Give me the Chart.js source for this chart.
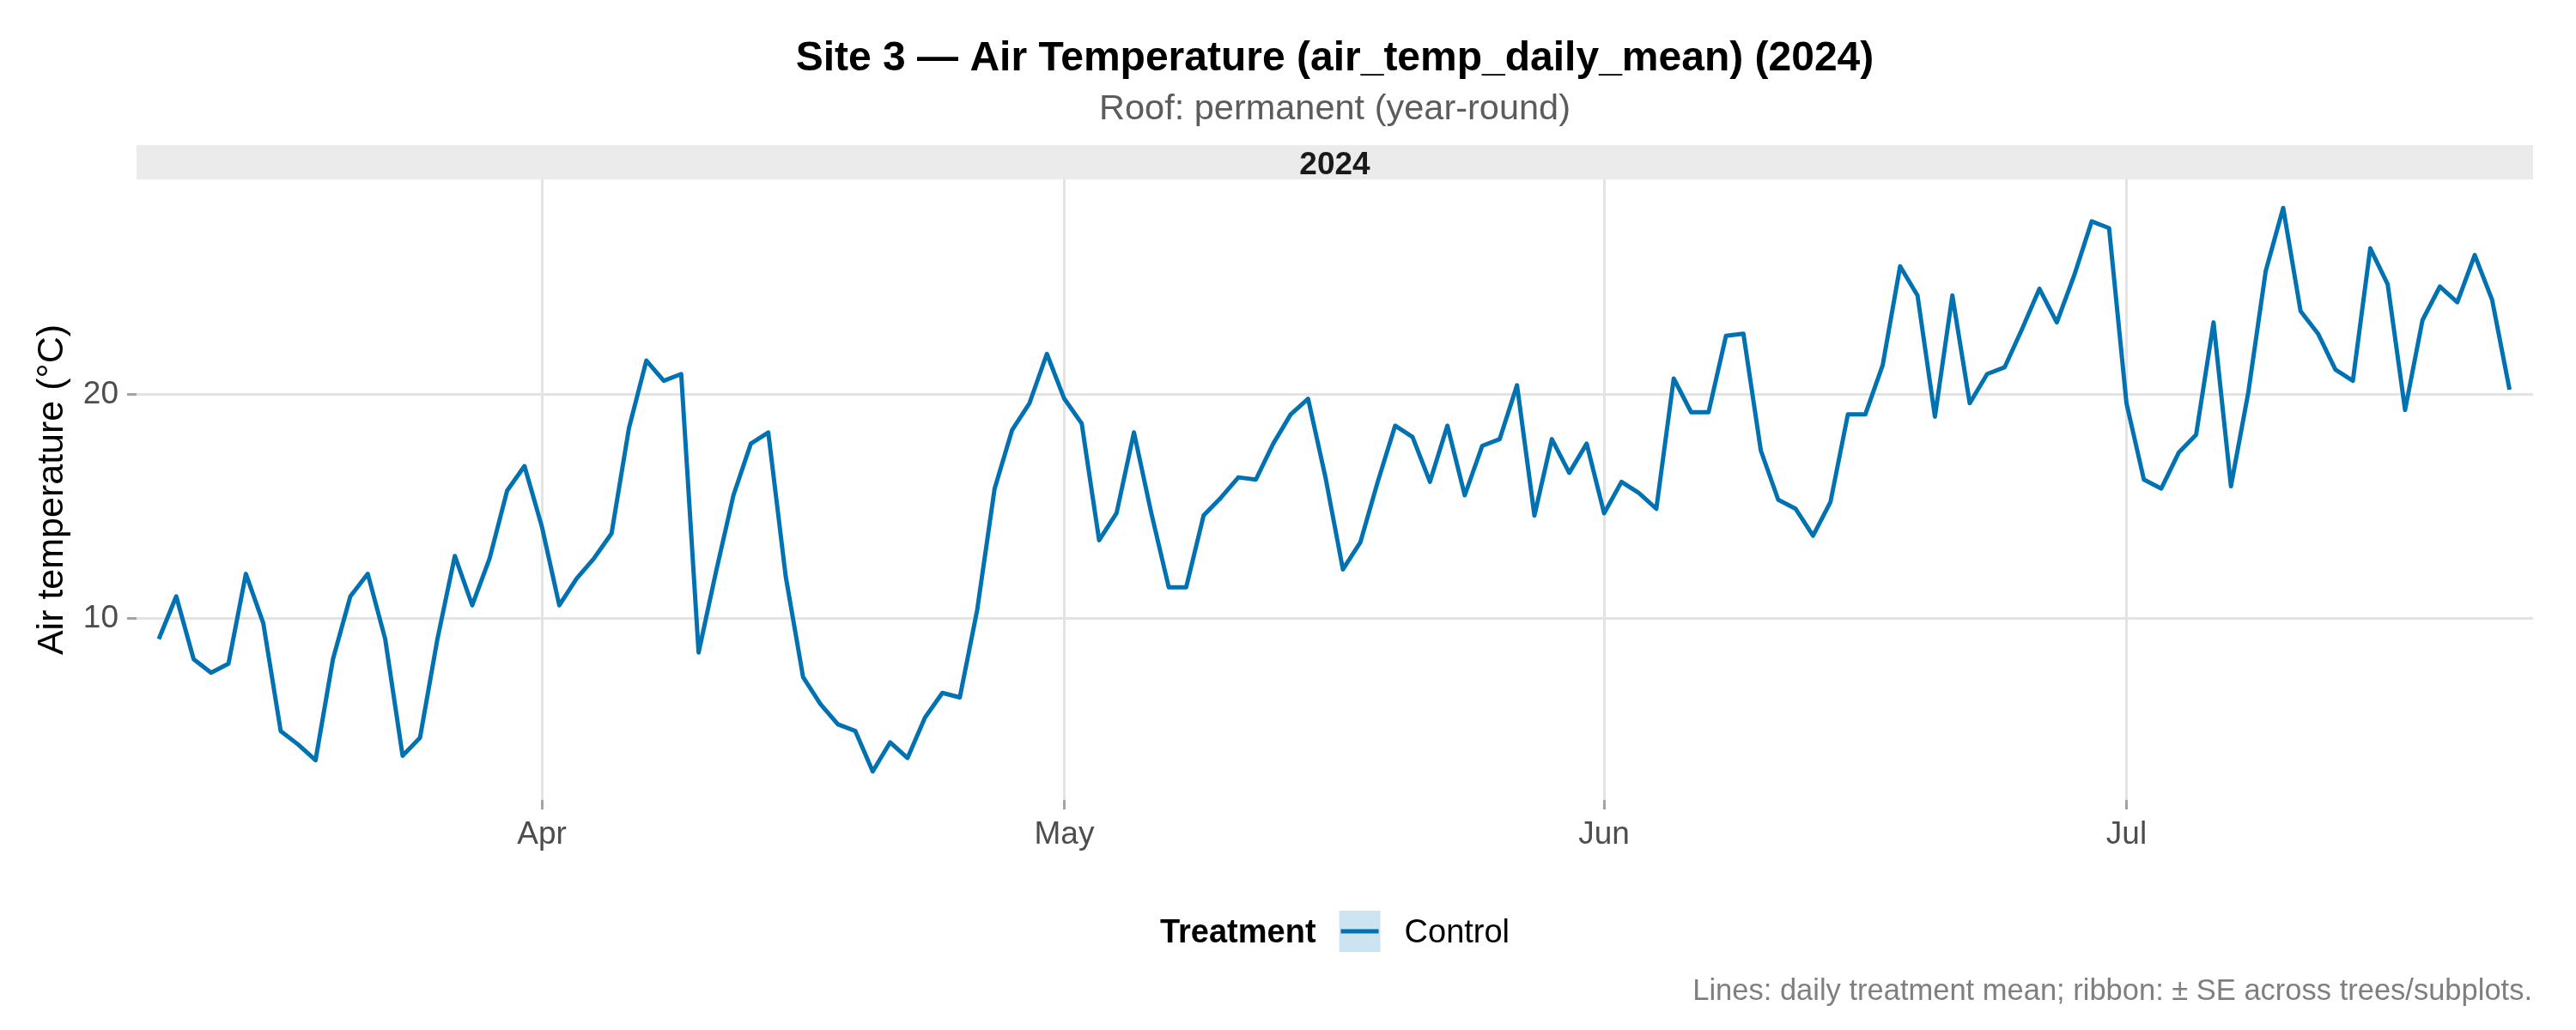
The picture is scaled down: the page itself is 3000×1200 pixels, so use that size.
<!DOCTYPE html>
<html lang="en">
<head>
<meta charset="UTF-8">
<title>Site 3 — Air Temperature (air_temp_daily_mean) (2024)</title>
<script src="https://cdn.jsdelivr.net/npm/chart.js"></script>
<style>
  html, body { margin: 0; padding: 0; background: #ffffff; }
</style>
</head>
<body>
<canvas id="myChart" width="3000" height="1200"></canvas>
<script>
// Daily treatment mean of air_temp_daily_mean (°C), treatment "Control"
// one array per month, each starting at the date in monthStarts
const monthStarts = ['2024-03-10', '2024-04-01', '2024-05-01', '2024-06-01', '2024-07-01'];
const marTemps = [9.1, 11.0, 8.2, 7.6, 8.0, 12.0, 9.8, 5.0, 4.4, 3.7, 8.2, 11.0, 12.0, 9.1, 3.9, 4.7, 9.1, 12.8, 10.6, 12.7, 15.7, 16.8];
const aprTemps = [14.1, 10.6, 11.8, 12.7, 13.8, 18.5, 21.5, 20.6, 20.9, 8.5, 12.1, 15.5, 17.8, 18.3, 11.9, 7.4, 6.2, 5.3, 5.0, 3.2, 4.5, 3.8, 5.6, 6.7, 6.5, 10.4, 15.8, 18.4, 19.6, 21.8];
const mayTemps = [19.8, 18.7, 13.5, 14.7, 18.3, 14.7, 11.4, 11.4, 14.6, 15.4, 16.3, 16.2, 17.8, 19.1, 19.8, 16.3, 12.2, 13.4, 16.1, 18.6, 18.1, 16.1, 18.6, 15.5, 17.7, 18.0, 20.4, 14.6, 18.0, 16.5, 17.8];
const junTemps = [14.7, 16.1, 15.6, 14.9, 20.7, 19.2, 19.2, 22.6, 22.7, 17.5, 15.3, 14.9, 13.7, 15.2, 19.1, 19.1, 21.3, 25.7, 24.4, 19.0, 24.4, 19.6, 20.9, 21.2, 22.9, 24.7, 23.2, 25.3, 27.7, 27.4];
const julTemps = [19.6, 16.2, 15.8, 17.4, 18.2, 23.2, 15.9, 20.1, 25.5, 28.3, 23.7, 22.7, 21.1, 20.6, 26.5, 24.9, 19.3, 23.3, 24.8, 24.1, 26.2, 24.2, 20.2];

// x axis ticks
const tickDates = ['2024-04-01', '2024-05-01', '2024-06-01', '2024-07-01'];
const tickLabels = ['Apr', 'May', 'Jun', 'Jul'];
// y axis ticks
const yTicks = [10, 20];

const FONT = '"Liberation Sans", Arial, Helvetica, sans-serif';
const LINE_COLOR = '#0072B2';

function dayOf(s) {
    const [y, m, d] = s.split('-').map(Number);
    return (Date.UTC(y, m - 1, d) - Date.UTC(2024, 0, 1)) / 864e5;
}

// build {x, y} points
const points = [];
[marTemps, aprTemps, mayTemps, junTemps, julTemps].forEach((arr, i) => {
    const start = dayOf(monthStarts[i]);
    arr.forEach((v, j) => points.push({ x: start + j, y: v }));
});
const firstDay = points[0].x;
const lastDay = points[points.length - 1].x;
const tickDays = tickDates.map(dayOf);

// titles, facet strip, legend and caption drawn around the panel
const decorations = {
    id: 'decorations',
    afterDraw(chart) {
        const ctx = chart.ctx;
        const area = chart.chartArea;
        const cx = (area.left + area.right) / 2;
        ctx.save();

        // facet strip
        ctx.fillStyle = '#ebebeb';
        ctx.fillRect(area.left, area.top - 40, area.right - area.left, 40);
        ctx.fillStyle = '#1a1a1a';
        ctx.textAlign = 'center';
        ctx.textBaseline = 'alphabetic';
        ctx.font = 'bold 37px ' + FONT;
        ctx.fillText('2024', cx, area.top - 6);

        // title + subtitle
        ctx.fillStyle = '#000000';
        ctx.font = 'bold 48px ' + FONT;
        ctx.fillText('Site 3 \u2014 Air Temperature (air_temp_daily_mean) (2024)', cx, 82);
        ctx.fillStyle = '#5c5c5c';
        ctx.font = '41.5px ' + FONT;
        ctx.fillText('Roof: permanent (year-round)', cx, 139);

        // legend
        ctx.font = 'bold 38px ' + FONT;
        const tW = ctx.measureText('Treatment').width;
        ctx.font = '38px ' + FONT;
        const lW = ctx.measureText('Control').width;
        const keyW = 48, gap1 = 27, gap2 = 28;
        const total = tW + gap1 + keyW + gap2 + lW;
        let x = cx - total / 2;
        const legY = 1085;
        ctx.textAlign = 'left';
        ctx.fillStyle = '#000000';
        ctx.font = 'bold 38px ' + FONT;
        ctx.fillText('Treatment', x, legY + 13);
        x += tW + gap1;
        ctx.fillStyle = '#cce3f0';
        ctx.fillRect(x, legY - 24, keyW, 48);
        ctx.strokeStyle = LINE_COLOR;
        ctx.lineWidth = 5;
        ctx.beginPath();
        ctx.moveTo(x + 2, legY);
        ctx.lineTo(x + keyW - 2, legY);
        ctx.stroke();
        x += keyW + gap2;
        ctx.fillStyle = '#000000';
        ctx.font = '38px ' + FONT;
        ctx.fillText('Control', x, legY + 13);

        // caption
        ctx.textAlign = 'right';
        ctx.fillStyle = '#7f7f7f';
        ctx.font = '34.5px ' + FONT;
        ctx.fillText('Lines: daily treatment mean; ribbon: \u00b1 SE across trees/subplots.', area.right - 1, 1165);

        ctx.restore();
    }
};

const ctx = document.getElementById('myChart').getContext('2d');
const myChart = new Chart(ctx, {
    type: 'line',
    data: {
        datasets: [{
            label: 'Control',
            data: points,
            borderColor: LINE_COLOR,
            backgroundColor: LINE_COLOR,
            borderWidth: 5,
            borderJoinStyle: 'round',
            pointRadius: 0,
            tension: 0,
            fill: false
        }]
    },
    options: {
        responsive: false,
        animation: false,
        devicePixelRatio: 1,
        layout: {
            padding: { top: 209, right: 50, bottom: 0, left: 0 }
        },
        scales: {
            x: {
                type: 'linear',
                min: firstDay - 1.28,
                max: lastDay + 1.35,
                afterBuildTicks: scale => { scale.ticks = tickDays.map(v => ({ value: v })); },
                afterFit: scale => { scale.height = 268; },
                ticks: {
                    autoSkip: false,
                    maxRotation: 0,
                    padding: 8,
                    color: '#4d4d4d',
                    font: { family: FONT, size: 37 },
                    callback: value => tickLabels[tickDays.indexOf(value)]
                },
                grid: {
                    color: '#e3e3e3',
                    lineWidth: 3,
                    tickLength: 11,
                    tickColor: '#a3a3a3',
                    tickWidth: 3
                },
                border: { display: false }
            },
            y: {
                min: 1.93,
                max: 29.57,
                afterBuildTicks: scale => { scale.ticks = yTicks.map(v => ({ value: v })); },
                afterFit: scale => { scale.width = 159; },
                ticks: {
                    padding: 10,
                    color: '#4d4d4d',
                    font: { family: FONT, size: 37 }
                },
                grid: {
                    color: '#e3e3e3',
                    lineWidth: 3,
                    tickLength: 11,
                    tickColor: '#a3a3a3',
                    tickWidth: 3
                },
                border: { display: false },
                title: {
                    display: true,
                    text: 'Air temperature (°C)',
                    color: '#000000',
                    font: { family: FONT, size: 43 },
                    padding: { top: 35, bottom: 0 }
                }
            }
        },
        plugins: {
            legend: { display: false },
            tooltip: { enabled: false },
            title: { display: false }
        }
    },
    plugins: [decorations]
});
</script>
</body>
</html>
